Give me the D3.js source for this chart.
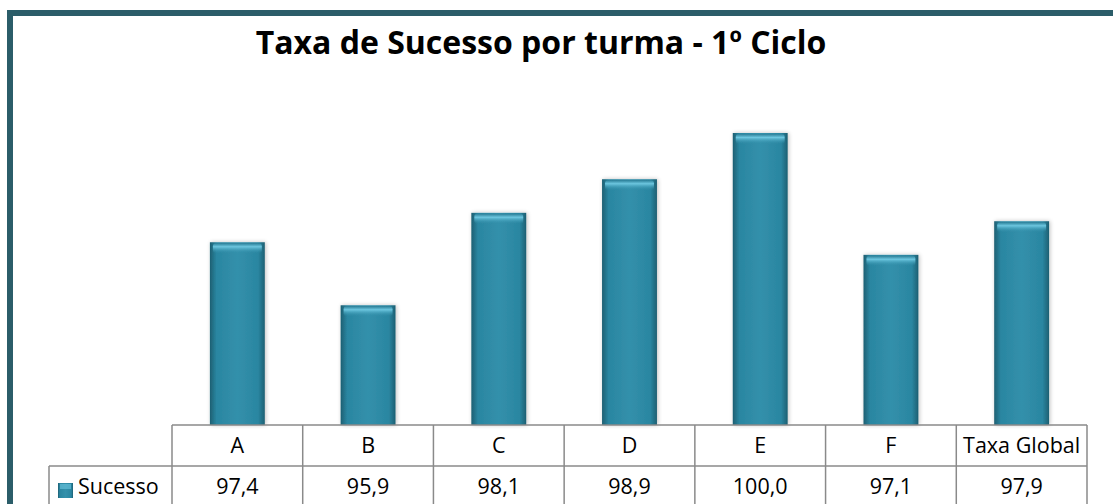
<!DOCTYPE html>
<html lang="pt">
<head>
<meta charset="UTF-8">
<title>Taxa de Sucesso por turma</title>
<script src="https://d3js.org/d3.v7.min.js"></script>
<style>
  body { margin: 0; background: #fff; }
  svg { display: block; }
  .cell text { font-family: "Open Sans", sans-serif; font-size: 21.5px; fill: #000; }
</style>
</head>
<body>
<svg></svg>
<script>
  // chart data
  var turmas = ["A", "B", "C", "D", "E", "F", "Taxa Global"];
  var sucesso = [97.4, 95.9, 98.1, 98.9, 100.0, 97.1, 97.9];
  var serieName = "Sucesso";
  var titulo = "Taxa de Sucesso por turma - 1\u00ba Ciclo";

  var w = 1113, h = 504;
  var tableLeft = 172, tableRight = 1087, legendLeft = 49;
  var plotBottom = 425, headerBottom = 466;

  var svg = d3.select("svg").attr("width", w).attr("height", h);

  // gradients for the bevelled bars
  var defs = svg.append("defs");
  var g1 = defs.append("linearGradient").attr("id", "barFill")
      .attr("x1", 0).attr("x2", 1).attr("y1", 0).attr("y2", 0);
  g1.append("stop").attr("offset", "0%").attr("stop-color", "#1d5f72");
  g1.append("stop").attr("offset", "12%").attr("stop-color", "#2a86a1");
  g1.append("stop").attr("offset", "50%").attr("stop-color", "#3390ab");
  g1.append("stop").attr("offset", "88%").attr("stop-color", "#2a86a1");
  g1.append("stop").attr("offset", "100%").attr("stop-color", "#1d5f72");
  var g2 = defs.append("linearGradient").attr("id", "bevel")
      .attr("x1", 0).attr("x2", 0).attr("y1", 0).attr("y2", 1);
  g2.append("stop").attr("offset", "0%").attr("stop-color", "#2c7f98");
  g2.append("stop").attr("offset", "35%").attr("stop-color", "#6cc6df");
  g2.append("stop").attr("offset", "100%").attr("stop-color", "#3390ab").attr("stop-opacity", 0);
  var shadow = defs.append("filter").attr("id", "shadow")
      .attr("x", "-20%").attr("y", "-10%").attr("width", "140%").attr("height", "120%");
  shadow.append("feGaussianBlur").attr("in", "SourceAlpha").attr("stdDeviation", 2);
  shadow.append("feOffset").attr("dx", 1).attr("dy", 0).attr("result", "b");
  shadow.append("feComponentTransfer").append("feFuncA").attr("type", "linear").attr("slope", 0.25);
  var merge = shadow.append("feMerge");
  merge.append("feMergeNode");
  merge.append("feMergeNode").attr("in", "SourceGraphic");

  // outer frame
  svg.append("rect")
      .attr("x", 10).attr("y", 13)
      .attr("width", w + 20).attr("height", h + 20)
      .attr("fill", "none")
      .attr("stroke", "#2b5d69")
      .attr("stroke-width", 6);

  // title
  svg.append("text")
      .attr("x", 541).attr("y", 54)
      .attr("text-anchor", "middle")
      .style("font-family", "'Open Sans', sans-serif")
      .style("font-weight", "bold")
      .style("font-size", "32px")
      .text(titulo);

  // scales
  var xCell = d3.scaleBand().domain(turmas).range([tableLeft, tableRight]);
  var xBar = d3.scaleBand().domain(turmas).range([tableLeft, tableRight])
      .paddingInner(0.58).paddingOuter(0.29);
  var y = d3.scaleLinear().domain([93.05, 100]).range([plotBottom, 133]);

  // bars
  var bars = svg.append("g").selectAll("g").data(turmas).join("g")
      .attr("filter", "url(#shadow)");
  bars.append("rect")
      .attr("x", d => xBar(d))
      .attr("y", (d, i) => y(sucesso[i]))
      .attr("width", xBar.bandwidth())
      .attr("height", (d, i) => plotBottom - y(sucesso[i]))
      .attr("fill", "url(#barFill)");
  bars.append("rect")
      .attr("x", d => xBar(d) + 3)
      .attr("y", (d, i) => y(sucesso[i]) + 1)
      .attr("width", xBar.bandwidth() - 6)
      .attr("height", 10)
      .attr("rx", 3)
      .attr("fill", "url(#bevel)");

  // data table
  var grid = svg.append("g").attr("stroke", "#8a8a8a").attr("stroke-width", 1.5).attr("fill", "none");
  grid.append("line").attr("x1", tableLeft).attr("x2", tableRight).attr("y1", plotBottom).attr("y2", plotBottom);
  grid.append("line").attr("x1", legendLeft).attr("x2", tableRight).attr("y1", headerBottom).attr("y2", headerBottom);
  grid.append("line").attr("x1", legendLeft).attr("x2", legendLeft).attr("y1", headerBottom).attr("y2", h + 5);
  grid.selectAll("line.v").data(turmas.concat(["end"])).join("line")
      .attr("class", "v")
      .attr("x1", d => d === "end" ? tableRight : xCell(d))
      .attr("x2", d => d === "end" ? tableRight : xCell(d))
      .attr("y1", plotBottom).attr("y2", h + 5);

  var cells = svg.append("g").attr("class", "cell");
  cells.selectAll("text.head").data(turmas).join("text")
      .attr("class", "head")
      .attr("x", d => xCell(d) + xCell.bandwidth() / 2)
      .attr("y", 453)
      .attr("text-anchor", "middle")
      .text(d => d);
  cells.selectAll("text.val").data(sucesso).join("text")
      .attr("class", "val")
      .attr("x", (d, i) => xCell(turmas[i]) + xCell.bandwidth() / 2)
      .attr("y", 494)
      .attr("text-anchor", "middle")
      .text(d => d3.format(".1f")(d).replace(".", ","));

  // legend key
  svg.append("rect")
      .attr("x", 58).attr("y", 483).attr("width", 15).attr("height", 15)
      .attr("fill", "url(#barFill)");
  svg.append("rect")
      .attr("x", 60).attr("y", 484).attr("width", 11).attr("height", 5)
      .attr("fill", "#6cc6df").attr("opacity", 0.6);
  cells.append("text")
      .attr("x", 78).attr("y", 494)
      .text(serieName);
</script>
</body>
</html>
